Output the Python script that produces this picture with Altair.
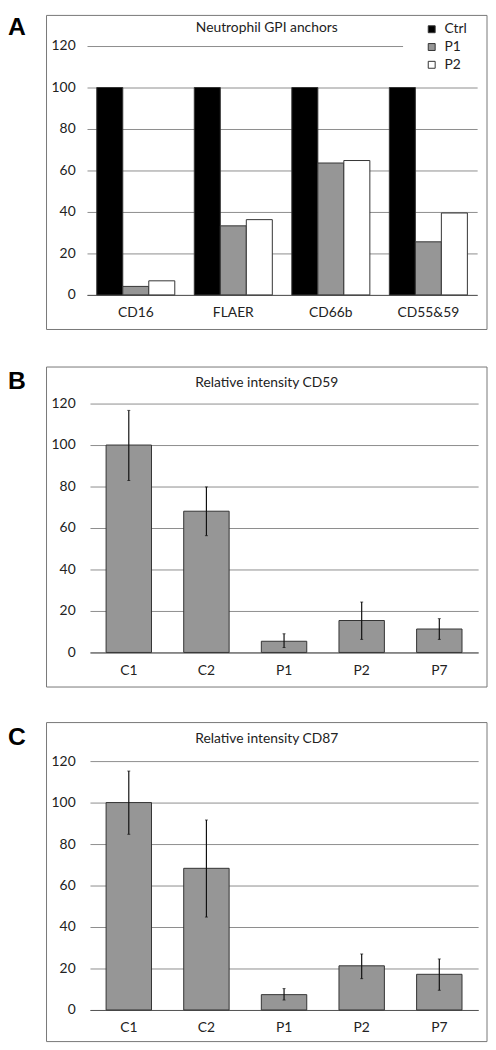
import altair as alt
import pandas as pd

# ---------------- data ----------------
gpi_markers = ["CD16", "FLAER", "CD66b", "CD55&59"]
gpi_series = ["Ctrl", "P1", "P2"]
gpi_ctrl = [100, 100, 100, 100]
gpi_p1 = [4.1, 33.3, 63.6, 25.6]
gpi_p2 = [6.8, 36.3, 64.8, 39.5]

samples = ["C1", "C2", "P1", "P2", "P7"]
cd59_mean = [100, 68.1, 5.4, 15.4, 11.3]
cd59_lo = [82.9, 56.3, 2.4, 6.3, 6.3]
cd59_hi = [116.7, 79.8, 9.0, 24.3, 16.3]

cd87_mean = [100, 68.3, 7.4, 21.3, 17.2]
cd87_lo = [84.7, 44.8, 4.8, 15.1, 9.5]
cd87_hi = [115.2, 91.6, 10.3, 27.0, 24.6]

y_ticks = [0, 20, 40, 60, 80, 100, 120]

FONT = "Lato"
FS = 14
GRID = "#8c8c8c"
BOX = "#777777"
BARGRAY = "#969696"
EDGE = "#333333"

one = pd.DataFrame({"k": [0]})


def frame_layers(letter, lx, ly, bx1, bx2, by1, by2, title, tx, ty):
    box = alt.Chart(one).mark_rect(filled=False, stroke=BOX, strokeWidth=1).encode(
        x=alt.value(bx1), x2=alt.value(bx2), y=alt.value(by1), y2=alt.value(by2))
    let = alt.Chart(one).mark_text(text=letter, font="Liberation Sans", fontWeight="bold",
                                   fontSize=25, align="left", baseline="top",
                                   color="#000000").encode(x=alt.value(lx), y=alt.value(ly))
    tit = alt.Chart(one).mark_text(text=title, font=FONT, fontSize=FS, align="center",
                                   baseline="middle", color="#222222").encode(
        x=alt.value(tx), y=alt.value(ty))
    return [box, let, tit]


yscale = alt.Scale(domain=[0, 120], nice=False)
yaxis = alt.Axis(values=y_ticks, domain=False, ticks=False, labelPadding=15, grid=True,
                 gridColor=GRID, gridWidth=1, title=None)


def xaxis():
    return alt.Axis(title=None, labelAngle=0, ticks=False, domain=True,
                    domainColor="#555555", labelPadding=11, grid=False)


# ---------------- panel A ----------------
rows = []
for i, m in enumerate(gpi_markers):
    for s, vals in zip(gpi_series, [gpi_ctrl, gpi_p1, gpi_p2]):
        rows.append({"marker": m, "series": s, "value": vals[i]})
dfa = pd.DataFrame(rows)

W, H = 393, 252
bars_a = alt.Chart(dfa).mark_bar(stroke=EDGE, strokeWidth=1).encode(
    x=alt.X("marker:N", sort=gpi_markers,
            scale=alt.Scale(paddingInner=0.2, paddingOuter=0.1, range=[-3, 392]),
            axis=xaxis()),
    xOffset=alt.XOffset("series:N", sort=gpi_series, scale=alt.Scale(paddingInner=0, paddingOuter=0)),
    y=alt.Y("value:Q", scale=yscale, axis=yaxis),
    fill=alt.Fill("series:N", sort=gpi_series,
                  scale=alt.Scale(domain=gpi_series, range=["#000000", BARGRAY, "#ffffff"]),
                  legend=alt.Legend(title=None, orient="none", legendX=339, legendY=-24,
                                    symbolType="square", symbolSize=49,
                                    symbolStrokeColor=EDGE, symbolStrokeWidth=1,
                                    labelFont=FONT, labelFontSize=FS, labelColor="#222222",
                                    labelOffset=6, rowPadding=4, padding=0)),
)
cover = alt.Chart(one).mark_rect(fill="#ffffff").encode(
    x=alt.value(317), x2=alt.value(394), y=alt.value(-3), y2=alt.value(3))

panel_a = alt.layer(
    cover, bars_a,
    *frame_layers("A", -83, -31, -44, 402, -31, 287, "Neutrophil GPI anchors", 179, -18),
).properties(width=W, height=H)


# ---------------- panels B, C ----------------
def intensity_panel(means, lo, hi, title, letter, ly, by1, by2, ty):
    df = pd.DataFrame({"sample": samples, "mean": means, "lo": lo, "hi": hi})
    xenc = alt.X("sample:N", sort=samples,
                 scale=alt.Scale(paddingInner=0.415, paddingOuter=0.2075),
                 axis=xaxis())
    bars = alt.Chart(df).mark_bar(fill=BARGRAY, stroke=EDGE, strokeWidth=1).encode(
        x=xenc, y=alt.Y("mean:Q", scale=yscale, axis=yaxis))
    err = alt.Chart(df).mark_rule(color="#111111", strokeWidth=1.2).encode(
        x=alt.X("sample:N", sort=samples), y="lo:Q", y2="hi:Q")
    cap_hi = alt.Chart(df).mark_tick(color="#111111", thickness=1, size=3, orient="horizontal").encode(
        x=alt.X("sample:N", sort=samples), y="hi:Q")
    cap_lo = alt.Chart(df).mark_tick(color="#111111", thickness=1, size=3, orient="horizontal").encode(
        x=alt.X("sample:N", sort=samples), y="lo:Q")
    return alt.layer(
        bars, err, cap_hi, cap_lo,
        *frame_layers(letter, -83, ly, -44, 402, by1, by2, title, 179, ty),
    ).properties(width=W, height=H)


panel_b = intensity_panel(cd59_mean, cd59_lo, cd59_hi, "Relative intensity CD59", "B",
                          -35, -37, 287, -21)
panel_c = intensity_panel(cd87_mean, cd87_lo, cd87_hi, "Relative intensity CD87", "C",
                          -36, -39, 284, -22)

chart = alt.vconcat(panel_a, panel_b, panel_c, spacing=110, bounds="flush").properties(
    padding=0
).configure_view(strokeWidth=0).configure_axis(
    labelFont=FONT, labelFontSize=FS, labelColor="#222222"
)

chart.save("out.html", embed_options={"renderer": "svg", "actions": False})
